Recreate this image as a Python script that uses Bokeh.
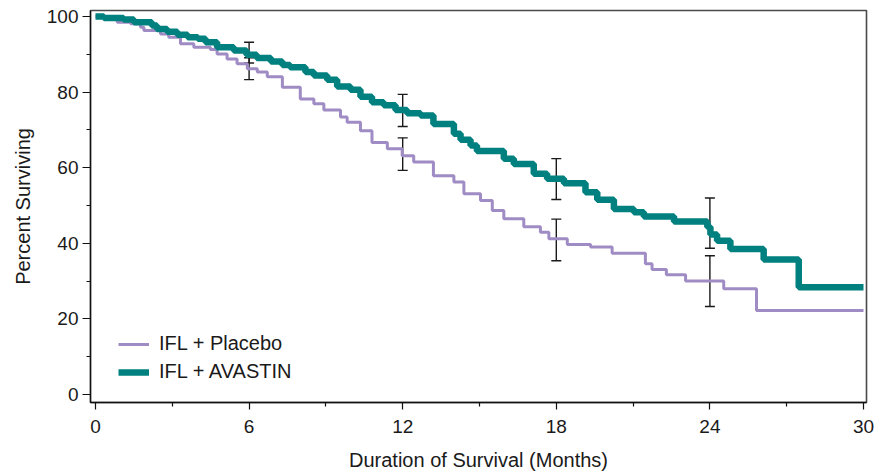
from bokeh.plotting import figure
from bokeh.models import (ColumnDataSource, FixedTicker, Whisker, TeeHead,
                          Legend, LegendItem, Range1d)
from bokeh.embed import file_html
from bokeh.resources import INLINE

# ---- data ----
avastin_t = [0, 0.33, 1.1, 1.5, 2.2, 2.4, 2.8, 3.2, 3.6, 4.0,
             4.3, 4.75, 5.4, 5.9, 6.3, 6.85, 7.3, 7.6, 8.2, 8.53,
             9.05, 9.44, 9.96, 10.35, 10.8, 11.26, 11.72, 12.17, 12.7, 13.2,
             14.0, 14.26, 14.65, 14.9, 15.95, 16.34, 17.12, 17.64, 18.3, 19.14,
             19.6, 20.25, 21.03, 21.42, 22.6, 23.9, 24.02, 24.28, 24.8, 26.1,
             27.47, 30.0]
avastin_s = [100, 99.6, 99.2, 98.5, 97.6, 96.7, 96.0, 95.2, 94.5, 94.1,
             93.2, 91.9, 91.0, 89.9, 89.0, 88.1, 87.2, 86.6, 85.3, 84.4,
             83.3, 81.5, 80.6, 78.8, 77.3, 76.5, 75.3, 74.4, 73.8, 71.6,
             69.0, 67.4, 65.9, 64.4, 62.4, 61.0, 58.4, 57.1, 55.9, 53.5,
             51.5, 49.1, 48.2, 47.1, 45.8, 44.3, 42.3, 40.7, 38.5, 35.7,
             28.4, 28.4]

placebo_t = [0, 0.33, 0.85, 1.37, 1.76, 1.89, 2.54, 2.86, 3.32, 3.84,
             4.49, 4.75, 5.14, 5.53, 5.93, 6.32, 6.71, 7.3, 8.0, 8.53,
             8.92, 9.57, 9.83, 10.35, 10.8, 11.4, 11.98, 12.43, 13.2, 14.0,
             14.39, 15.04, 15.5, 15.95, 16.73, 17.38, 17.71, 18.43, 19.34, 20.18,
             21.48, 21.74, 22.3, 23.05, 24.54, 25.82, 30.0]
placebo_s = [100, 99.4, 98.5, 98.1, 97.2, 96.3, 95.4, 94.5, 92.8, 91.9,
             91.3, 90.1, 88.8, 87.5, 86.2, 85.3, 84.1, 81.3, 78.2, 76.9,
             75.3, 73.4, 72.0, 69.8, 66.7, 65.0, 63.2, 61.5, 57.9, 56.2,
             53.1, 51.3, 48.7, 46.5, 44.4, 42.9, 41.2, 39.7, 39.0, 37.4,
             34.6, 33.1, 31.7, 30.0, 28.0, 22.2, 22.2]

ci_months = [6, 12, 18, 24]
avastin_ci_low = [87.7, 70.9, 51.6, 38.7]
avastin_ci_high = [93.2, 79.4, 62.4, 52.0]
placebo_ci_low = [83.3, 59.3, 35.4, 23.3]
placebo_ci_high = [89.1, 67.9, 46.4, 36.7]

x_ticks = [0, 6, 12, 18, 24, 30]
x_minor = [3, 9, 15, 21, 27]
y_ticks = [0, 20, 40, 60, 80, 100]
y_minor = [10, 30, 50, 70, 90]

series_names = ["IFL + Placebo", "IFL + AVASTIN"]

# ---- styling ----
TEAL = "#00807e"
LAV = "#a08cc4"
FONT = "Liberation Sans"

p = figure(width=886, height=474, output_backend="svg", toolbar_location=None,
           x_range=Range1d(-0.195, 30.117), y_range=Range1d(-2.12, 101.6),
           min_border_left=90, min_border_top=10, min_border_right=20,
           min_border_bottom=72)
p.background_fill_color = "white"
p.border_fill_color = "white"
p.grid.visible = False
p.outline_line_color = "#4a4a4a"
p.outline_line_width = 1.6

r_pl = p.step(placebo_t, placebo_s, mode="after", line_color=LAV, line_width=3)
r_av = p.step(avastin_t, avastin_s, mode="after", line_color=TEAL, line_width=6.5)

for lo, hi in ((avastin_ci_low, avastin_ci_high), (placebo_ci_low, placebo_ci_high)):
    src = ColumnDataSource(dict(x=ci_months, lo=lo, hi=hi))
    w = Whisker(base="x", lower="lo", upper="hi", source=src,
                line_color="#1a1a1a", line_width=1.4,
                upper_head=TeeHead(size=10, line_color="#1a1a1a", line_width=1.4),
                lower_head=TeeHead(size=10, line_color="#1a1a1a", line_width=1.4))
    p.add_layout(w)

# axes
p.xaxis.ticker = FixedTicker(ticks=x_ticks, minor_ticks=x_minor)
p.yaxis.ticker = FixedTicker(ticks=y_ticks, minor_ticks=y_minor)
for ax in (p.xaxis, p.yaxis):
    ax.axis_line_color = "#111111"
    ax.axis_line_width = 1.3
    ax.major_tick_line_color = "#111111"
    ax.minor_tick_line_color = "#111111"
    ax.major_tick_line_width = 1.2
    ax.minor_tick_line_width = 1.2
    ax.major_tick_in = 0
    ax.minor_tick_in = 0
    ax.major_label_text_font = FONT
    ax.major_label_text_font_size = "19px"
    ax.major_label_text_color = "#1a1a1a"
    ax.axis_label_text_font = FONT
    ax.axis_label_text_font_size = "20px"
    ax.axis_label_text_font_style = "normal"
    ax.axis_label_text_color = "#1a1a1a"

p.xaxis.major_tick_out = 7
p.xaxis.minor_tick_out = 4
p.xaxis.major_label_standoff = 10
p.xaxis.axis_label = "Duration of Survival (Months)"
p.xaxis.axis_label_standoff = 13

p.yaxis.major_tick_out = 8
p.yaxis.minor_tick_out = 4
p.yaxis.major_label_standoff = 4
p.yaxis.axis_label = "Percent Surviving"
p.yaxis.axis_label_standoff = 10

legend = Legend(items=[LegendItem(label=series_names[0], renderers=[r_pl]),
                       LegendItem(label=series_names[1], renderers=[r_av])],
                location=(28, 19), border_line_color=None,
                background_fill_alpha=0, padding=0, margin=0, spacing=5,
                glyph_width=31, glyph_height=20, label_height=20,
                label_standoff=10, label_text_font=FONT,
                label_text_font_size="20px", label_text_color="#1a1a1a")
p.add_layout(legend)

open("out.html", "w").write(file_html(p, INLINE))
